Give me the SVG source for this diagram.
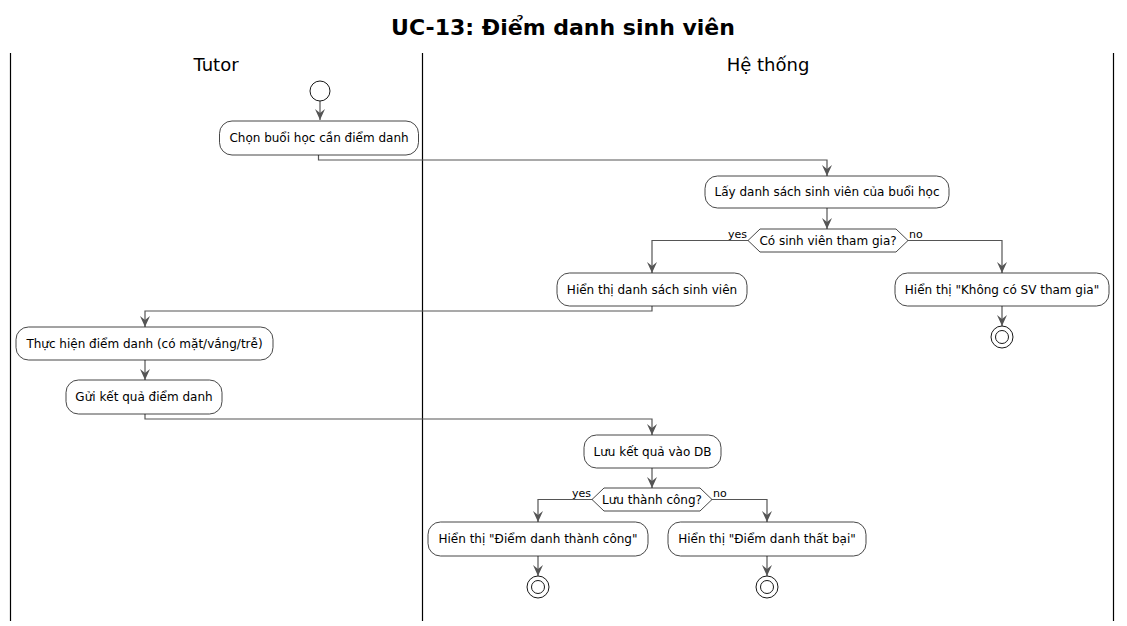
<svg xmlns="http://www.w3.org/2000/svg" width="1127" height="626" viewBox="0 0 1127 626">
<defs>
<style>
.t{font-family:"DejaVu Sans",sans-serif;font-size:12px;fill:#000;text-anchor:middle}
.lbl{font-family:"DejaVu Sans",sans-serif;font-size:11px;fill:#000}
.lane{font-family:"DejaVu Sans",sans-serif;font-size:18px;fill:#000;text-anchor:middle}
.title{font-family:"DejaVu Sans",sans-serif;font-size:22px;font-weight:bold;fill:#000;text-anchor:middle}
.box{fill:#fff;stroke:#181818;stroke-width:0.8}
.ln{fill:none;stroke:#555;stroke-width:1.2}
.c{fill:none;stroke:#181818;stroke-width:1}
.sep{stroke:#000;stroke-width:1.2}
</style>
<marker id="ah" viewBox="0 0 11 10" refX="11" refY="5" markerWidth="11" markerHeight="10" markerUnits="userSpaceOnUse" orient="auto">
<path d="M0,0 L11,5 L0,10 L4,5 Z" fill="#555"/>
</marker>
</defs>
<rect width="1127" height="626" fill="#fff"/>
<text class="title" x="563" y="35">UC-13: Điểm danh sinh viên</text>
<g id="lanes">
<line class="sep" x1="10.5" y1="53" x2="10.5" y2="621"/>
<line class="sep" x1="422.5" y1="53" x2="422.5" y2="621"/>
<line class="sep" x1="1113.5" y1="53" x2="1113.5" y2="621"/>
<text class="lane" x="216" y="71">Tutor</text>
<text class="lane" x="768" y="71">Hệ thống</text>
</g>
<g id="connectors">
<path class="ln" d="M320,101 V120" marker-end="url(#ah)"/>
<path class="ln" d="M318.5,155 V160 H827 V176" marker-end="url(#ah)"/>
<path class="ln" d="M827,208 V229" marker-end="url(#ah)"/>
<path class="ln" d="M748,240.5 H652 V273" marker-end="url(#ah)"/>
<path class="ln" d="M908,240.5 H1002 V273" marker-end="url(#ah)"/>
<path class="ln" d="M1002,306 V326" marker-end="url(#ah)"/>
<path class="ln" d="M652,306 V311 H145 V327" marker-end="url(#ah)"/>
<path class="ln" d="M145,360 V380" marker-end="url(#ah)"/>
<path class="ln" d="M145,414 V419 H652 V435" marker-end="url(#ah)"/>
<path class="ln" d="M652,468 V488" marker-end="url(#ah)"/>
<path class="ln" d="M592,499.5 H538 V522" marker-end="url(#ah)"/>
<path class="ln" d="M712,499.5 H767 V522" marker-end="url(#ah)"/>
<path class="ln" d="M538,556 V576" marker-end="url(#ah)"/>
<path class="ln" d="M767,556 V576" marker-end="url(#ah)"/>
<text class="lbl" x="747" y="238" text-anchor="end">yes</text>
<text class="lbl" x="909" y="238">no</text>
<text class="lbl" x="591" y="497" text-anchor="end">yes</text>
<text class="lbl" x="713" y="497">no</text>
</g>
<g id="start"><circle class="c" cx="320" cy="91" r="10"/></g>
<g id="n1"><rect class="box" x="219.5" y="121" width="199" height="34" rx="12.5"/><text class="t" x="319" y="142">Chọn buổi học cần điểm danh</text></g>
<g id="n2"><rect class="box" x="705" y="176" width="244" height="32" rx="12.5"/><text class="t" x="827" y="196">Lấy danh sách sinh viên của buổi học</text></g>
<g id="d1"><polygon class="box" points="748,240.5 760,229 896,229 908,240.5 896,252 760,252"/><text class="t" x="828" y="245">Có sinh viên tham gia?</text></g>
<g id="n3"><rect class="box" x="557" y="273" width="190" height="33" rx="12.5"/><text class="t" x="652" y="294">Hiển thị danh sách sinh viên</text></g>
<g id="n4"><rect class="box" x="895" y="273" width="214" height="33" rx="12.5"/><text class="t" x="1002" y="294">Hiển thị "Không có SV tham gia"</text></g>
<g id="end1"><circle class="c" cx="1002" cy="337" r="11"/><circle class="c" cx="1002" cy="337" r="6.5"/></g>
<g id="n5"><rect class="box" x="16" y="327" width="257" height="33" rx="12.5"/><text class="t" x="144.5" y="348">Thực hiện điểm danh (có mặt/vắng/trễ)</text></g>
<g id="n6"><rect class="box" x="66" y="380" width="156" height="34" rx="12.5"/><text class="t" x="144" y="401">Gửi kết quả điểm danh</text></g>
<g id="n7"><rect class="box" x="584" y="435" width="137" height="33" rx="12.5"/><text class="t" x="652.5" y="456">Lưu kết quả vào DB</text></g>
<g id="d2"><polygon class="box" points="592,499.5 604,488 700,488 712,499.5 700,511 604,511"/><text class="t" x="652" y="504">Lưu thành công?</text></g>
<g id="n8"><rect class="box" x="428" y="522" width="220" height="34" rx="12.5"/><text class="t" x="538" y="543">Hiển thị "Điểm danh thành công"</text></g>
<g id="n9"><rect class="box" x="668" y="522" width="198" height="34" rx="12.5"/><text class="t" x="767" y="543">Hiển thị "Điểm danh thất bại"</text></g>
<g id="end2"><circle class="c" cx="538" cy="587" r="11"/><circle class="c" cx="538" cy="587" r="6.5"/></g>
<g id="end3"><circle class="c" cx="767" cy="587" r="11"/><circle class="c" cx="767" cy="587" r="6.5"/></g>
</svg>
